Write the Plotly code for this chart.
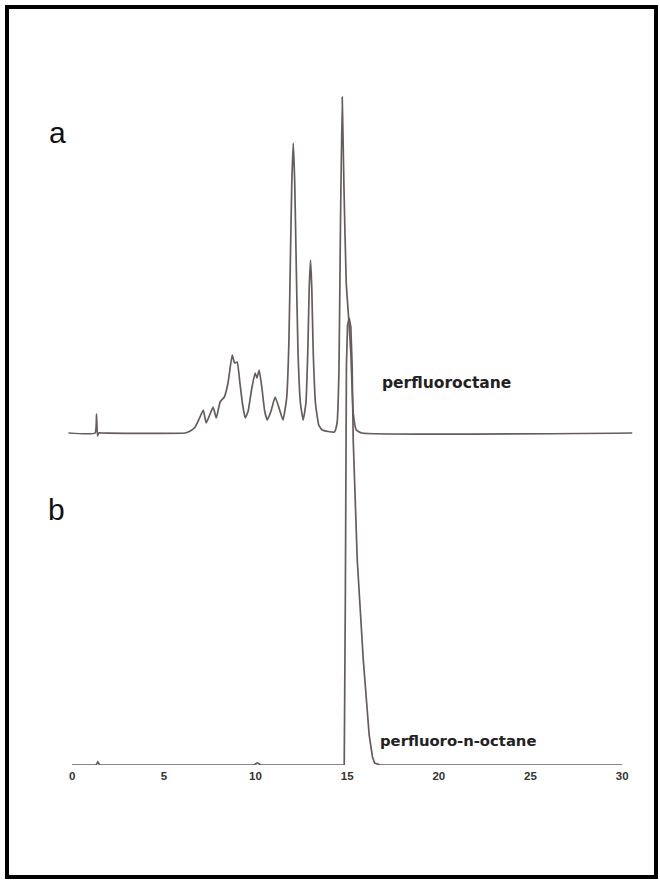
import plotly.graph_objects as go

# Trace a (perfluoroctane, commercial mixture): retention time (min) vs detector signal
time_a = [-0.2, 1.25, 1.33, 1.38, 1.45, 1.6, 6.16, 6.44, 6.71, 6.95, 7.15, 7.31, 7.5, 7.69,
          7.86, 8.07, 8.3, 8.5, 8.73, 8.86, 9.0, 9.15, 9.3, 9.44, 9.6, 9.8, 9.98, 10.08,
          10.2, 10.35, 10.5, 10.64, 10.85, 11.07, 11.3, 11.5, 11.7, 11.82, 11.9, 11.98,
          12.06, 12.14, 12.22, 12.32, 12.45, 12.6, 12.75, 12.85, 12.93, 13.0, 13.07, 13.15,
          13.27, 13.45, 13.64, 14.3, 14.45, 14.55, 14.63, 14.73, 14.82, 14.95, 15.1, 15.2,
          15.33, 15.5, 15.8, 30.55]
signal_a = [0, 0, 19, -3, 0, 0, 0, 2, 6, 15, 23, 10, 18, 26,
            15, 31, 36, 50, 78, 70, 71, 50, 28, 15, 22, 45, 60, 55,
            63, 45, 22, 13, 22, 36, 24, 13, 35, 90, 170, 250,
            290, 250, 170, 80, 30, 13, 30, 80, 145, 173, 145, 80,
            30, 8, 3, 1, 10, 60, 200, 336, 250, 150, 110, 80,
            20, 3, 0, 0]

# Trace b (perfluoro-n-octane)
time_b = [0.0, 1.3, 1.4, 1.5, 9.9, 10.1, 10.3, 14.84, 14.9, 14.96, 15.02, 15.11, 15.2,
          15.27, 15.33, 15.55, 15.88, 16.2, 16.38, 16.5, 16.8, 30.0]
signal_b = [0, 0, 3, 0, 0, 2, 0, 0, 165, 400, 440, 447, 438,
            400, 325, 205, 105, 30, 8, 2, 0, 0]

tick_vals = [0, 5, 10, 15, 20, 25, 30]
tick_text = ["<b>0</b>", "<b>5</b>", "<b>10</b>", "<b>15</b>", "<b>20</b>", "<b>25</b>", "<b>30</b>"]

line_color = "#665c5c"
font_fam = "Liberation Sans, Arial, sans-serif"
label_fam = "DejaVu Sans, sans-serif"

fig = go.Figure()
fig.add_trace(go.Scatter(x=time_a, y=signal_a, mode="lines", yaxis="y2",
                         line=dict(color=line_color, width=1.7, shape="spline", smoothing=0.4),
                         showlegend=False))
fig.add_trace(go.Scatter(x=time_b, y=signal_b, mode="lines", yaxis="y",
                         line=dict(color=line_color, width=1.7), showlegend=False))

fig.add_annotation(x=-0.009, y=0.884, xref="paper", yref="paper", text="a", showarrow=False,
                   font=dict(family=font_fam, size=30, color="#111"), xanchor="center", yanchor="middle")
fig.add_annotation(x=-0.012, y=0.357, xref="paper", yref="paper", text="b", showarrow=False,
                   font=dict(family=font_fam, size=30, color="#111"), xanchor="center", yanchor="middle")
fig.add_annotation(x=16.8, y=50, xref="x", yref="y2", text="<b>perfluoroctane</b>", showarrow=False,
                   font=dict(family=label_fam, size=15.5, color="#222"), xanchor="left", yanchor="middle")
fig.add_annotation(x=16.7, y=25, xref="x", yref="y", text="<b>perfluoro-n-octane</b>", showarrow=False,
                   font=dict(family=label_fam, size=14.8, color="#222"), xanchor="left", yanchor="middle")

fig.add_shape(type="rect", xref="paper", yref="paper", x0=-0.0979, x1=1.0367, y0=-0.1566, y1=1.060,
              line=dict(color="black", width=4), fillcolor="rgba(0,0,0,0)", layer="above")

fig.update_layout(
    width=660, height=881,
    margin=dict(l=63, r=25, t=50, b=116, autoexpand=False),
    paper_bgcolor="white", plot_bgcolor="white",
    xaxis=dict(range=[-0.5, 30.7], tickvals=tick_vals, ticktext=tick_text, showgrid=False,
               zeroline=False, showline=False, ticks="", ticklabelstandoff=2,
               tickfont=dict(family=font_fam, size=11.5, color="#333")),
    yaxis=dict(range=[0, 715], visible=False, showgrid=False, zeroline=False),
    yaxis2=dict(range=[-332, 383], overlaying="y", visible=False, showgrid=False, zeroline=False),
)

fig.write_html("out.html", config={"displayModeBar": False},
               post_script="document.body.style.margin='0';document.body.style.overflow='hidden';")
